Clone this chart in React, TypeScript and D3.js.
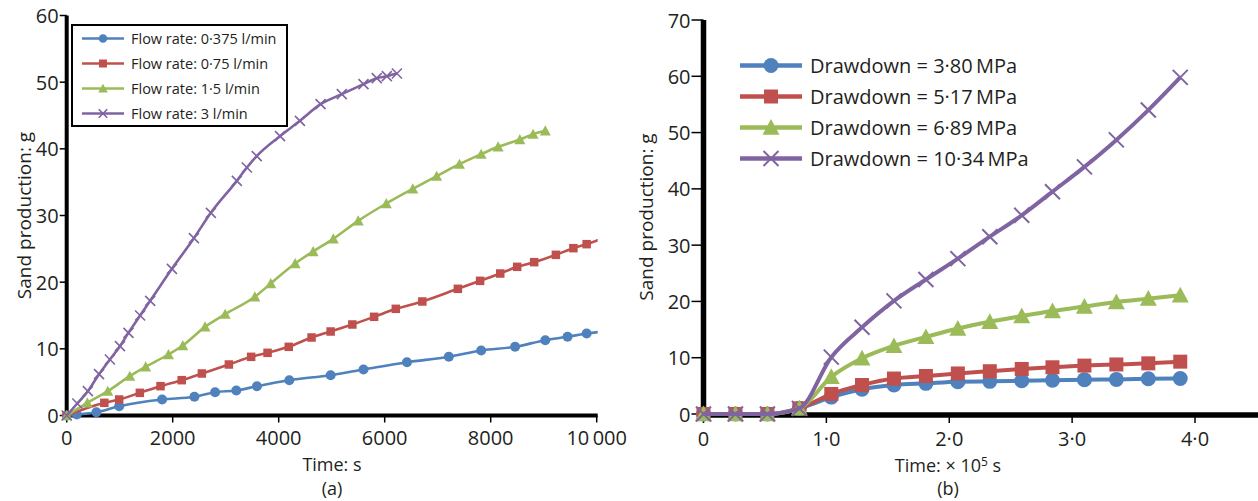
import React from "react";
import * as d3 from "d3";

type Pt = [number, number];
type Kind = "circle" | "square" | "triangle" | "cross";

const FONT = "'Open Sans', 'Noto Sans', sans-serif";
const INK = "#231f20";
const BLUE = "#4F81BD";
const RED = "#C0504D";
const GREEN = "#9BBB59";
const PURPLE = "#8064A2";

// ---------- Panel (a): sand production against time for four flow rates ----------
const flowTicksX = [0, 2000, 4000, 6000, 8000, 10000];
const flowTickLabelsX = ["0", "2000", "4000", "6000", "8000", "10\u2009000"];
const flowTicksY = [0, 10, 20, 30, 40, 50, 60];
const flowLegend = [
  "Flow rate: 0·375 l/min",
  "Flow rate: 0·75 l/min",
  "Flow rate: 1·5 l/min",
  "Flow rate: 3 l/min",
];

// [time in s, sand in g]
const flow0375: Pt[] = [
  [0, 0], [190, 0.15], [560, 0.5], [990, 1.4], [1800, 2.4], [2410, 2.8], [2800, 3.5],
  [3200, 3.75], [3590, 4.4], [4200, 5.3], [4980, 6.05], [5600, 6.9], [6420, 8.0],
  [7210, 8.8], [7820, 9.75], [8460, 10.3], [9030, 11.3], [9450, 11.8], [9810, 12.3],
  [10300, 12.7],
];
const flow075: Pt[] = [
  [0, 0], [710, 1.9], [990, 2.4], [1380, 3.4], [1770, 4.4], [2170, 5.3], [2550, 6.3],
  [3060, 7.65], [3480, 8.8], [3790, 9.4], [4190, 10.3], [4620, 11.7], [4980, 12.6],
  [5390, 13.65], [5800, 14.8], [6210, 16.0], [6710, 17.1], [7380, 19.0], [7800, 20.2],
  [8180, 21.3], [8500, 22.3], [8820, 23.0], [9230, 24.1], [9560, 25.1], [9810, 25.7],
  [10300, 27.2],
];
const flow15: Pt[] = [
  [0, 0], [390, 1.9], [775, 3.65], [1190, 5.9], [1490, 7.3], [1920, 9.15], [2190, 10.5],
  [2610, 13.3], [2990, 15.2], [3550, 17.8], [3850, 19.8], [4310, 22.8], [4650, 24.6],
  [5030, 26.5], [5500, 29.2], [6030, 31.8], [6530, 34.0], [6980, 35.9], [7410, 37.7],
  [7820, 39.2], [8140, 40.3], [8550, 41.4], [8800, 42.2], [9030, 42.7],
];
const flow3: Pt[] = [
  [0, 0], [200, 1.8], [400, 3.65], [610, 6.2], [815, 8.4], [1005, 10.4], [1165, 12.4],
  [1385, 15.0], [1575, 17.2], [1985, 22.0], [2400, 26.6], [2720, 30.4], [3210, 35.2],
  [3400, 37.2], [3585, 38.9], [4025, 41.9], [4400, 44.2], [4790, 46.7], [5190, 48.2],
  [5600, 49.7], [5850, 50.6], [6040, 50.9], [6230, 51.3],
];

// ---------- Panel (b): sand production against time for four drawdowns ----------
const drawTicksX = [0, 1, 2, 3, 4];
const drawTickLabelsX = ["0", "1·0", "2·0", "3·0", "4·0"];
const drawTicksY = [0, 10, 20, 30, 40, 50, 60, 70];
const drawLegend = [
  "Drawdown = 3·80\u2009MPa",
  "Drawdown = 5·17\u2009MPa",
  "Drawdown = 6·89\u2009MPa",
  "Drawdown = 10·34\u2009MPa",
];
// time in units of 10^5 s
const drawTimes = [0, 0.26, 0.52, 0.78, 1.04, 1.29, 1.55, 1.81, 2.07, 2.33, 2.59, 2.84, 3.1, 3.36, 3.62, 3.88];
const draw380 = [0, 0, 0, 1.0, 3.0, 4.4, 5.15, 5.45, 5.75, 5.8, 5.9, 6.0, 6.1, 6.15, 6.25, 6.3];
const draw517 = [0, 0, 0, 1.0, 3.55, 5.15, 6.3, 6.75, 7.2, 7.6, 8.0, 8.3, 8.6, 8.8, 9.0, 9.3];
const draw689 = [0, 0, 0, 1.0, 6.6, 9.9, 12.1, 13.7, 15.2, 16.4, 17.4, 18.3, 19.1, 19.9, 20.5, 21.1];
const draw1034 = [0, 0, 0, 1.0, 10.1, 15.4, 20.1, 23.9, 27.6, 31.5, 35.3, 39.5, 43.9, 48.7, 54.0, 59.8];

const kinds: Kind[] = ["circle", "square", "triangle", "cross"];
const colors = [BLUE, RED, GREEN, PURPLE];

function Marker({ kind, x, y, size, color, crossWidth }: {
  kind: Kind; x: number; y: number; size: number; color: string; crossWidth: number;
}) {
  const h = size / 2;
  if (kind === "circle") return <circle cx={x} cy={y} r={h} fill={color} />;
  if (kind === "square") return <rect x={x - h} y={y - h} width={size} height={size} fill={color} />;
  if (kind === "triangle")
    return <path d={`M${x},${y - h}L${x + h},${y + h * 0.85}L${x - h},${y + h * 0.85}Z`} fill={color} />;
  return (
    <path
      d={`M${x - h},${y - h}L${x + h},${y + h}M${x - h},${y + h}L${x + h},${y - h}`}
      stroke={color}
      strokeWidth={crossWidth}
      fill="none"
    />
  );
}

function PanelA() {
  const x = d3.scaleLinear().domain([0, 10000]).range([66.7, 596.7]);
  const y = d3.scaleLinear().domain([0, 60]).range([415.5, 15.5]);
  const line = d3.line<Pt>().x((d) => x(d[0])).y((d) => y(d[1])).curve(d3.curveMonotoneX);
  const series = [flow0375, flow075, flow15, flow3];
  const sizes = [10, 8.5, 11, 10];
  const legendSizes = [8.5, 8, 9.5, 8.5];
  const [x0, x1] = x.range();
  const [y0, y1] = y.range();
  return (
    <g>
      <defs>
        <clipPath id="clipA">
          <rect x={x0 - 10} y={y1 - 10} width={x1 - x0 + 11} height={y0 - y1 + 20} />
        </clipPath>
      </defs>
      {/* axes */}
      <line x1={x0} x2={x0} y1={y1} y2={y0 + 2} stroke="#000" strokeWidth={4} />
      <line x1={x0 - 2} x2={x1 + 1} y1={y0} y2={y0} stroke="#000" strokeWidth={4} />
      {flowTicksY.map((t) => (
        <g key={t}>
          <line x1={x0 - 7} x2={x0} y1={y(t)} y2={y(t)} stroke="#000" strokeWidth={1.5} />
          <text x={x0 - 8} y={y(t)} textAnchor="end" dominantBaseline="central" fontSize={20} fill={INK}>
            {t}
          </text>
        </g>
      ))}
      {flowTicksX.map((t, i) => (
        <g key={t}>
          <line x1={x(t)} x2={x(t)} y1={y0} y2={y0 + 7} stroke="#000" strokeWidth={1.5} />
          <text x={x(t)} y={445} textAnchor="middle" fontSize={20} fill={INK}>
            {flowTickLabelsX[i]}
          </text>
        </g>
      ))}
      {/* series */}
      <g clipPath="url(#clipA)">
        {series.map((s, i) => (
          <g key={i}>
            <path d={line(s) ?? ""} fill="none" stroke={colors[i]} strokeWidth={2.6} />
            {s.map((d, j) => (
              <Marker key={j} kind={kinds[i]} x={x(d[0])} y={y(d[1])} size={sizes[i]} color={colors[i]} crossWidth={1.6} />
            ))}
          </g>
        ))}
      </g>
      {/* legend */}
      <rect x={72} y={25} width={215} height={101} fill="#fff" stroke="#000" strokeWidth={2} />
      {flowLegend.map((label, i) => {
        const ly = 38.5 + i * 25;
        return (
          <g key={label}>
            <line x1={82} x2={124} y1={ly} y2={ly} stroke={colors[i]} strokeWidth={2.6} />
            <Marker kind={kinds[i]} x={103} y={ly} size={legendSizes[i]} color={colors[i]} crossWidth={1.6} />
            <text x={131} y={ly} dominantBaseline="central" fontSize={14.5} fill={INK}>
              {label}
            </text>
          </g>
        );
      })}
      {/* titles */}
      <text x={332} y={471} textAnchor="middle" fontSize={18} fill={INK}>
        Time: s
      </text>
      <text x={332} y={495} textAnchor="middle" fontSize={18} fill={INK}>
        (a)
      </text>
      <text transform={`translate(31,${(y0 + y1) / 2}) rotate(-90)`} textAnchor="middle" fontSize={19} fill={INK}>
        Sand production: g
      </text>
    </g>
  );
}

function PanelB() {
  const x = d3.scaleLinear().domain([0, 4]).range([703.5, 1195]);
  const y = d3.scaleLinear().domain([0, 70]).range([414, 20]);
  const line = d3.line<number>().x((_, i) => x(drawTimes[i])).y((d) => y(d)).curve(d3.curveMonotoneX);
  const series = [draw380, draw517, draw689, draw1034];
  const sizes = [15, 14, 17, 15];
  const [x0] = x.range();
  const [y0, y1] = y.range();
  return (
    <g>
      {/* axes */}
      <line x1={x0} x2={x0} y1={y1} y2={y0 + 3} stroke="#000" strokeWidth={5.5} />
      <line x1={x0 - 3} x2={1258} y1={y0 + 1} y2={y0 + 1} stroke="#000" strokeWidth={5.5} />
      {drawTicksY.map((t) => (
        <g key={t}>
          <line x1={x0 - 12} x2={x0} y1={y(t)} y2={y(t)} stroke="#000" strokeWidth={1.5} />
          <text x={x0 - 13} y={y(t)} textAnchor="end" dominantBaseline="central" fontSize={20} fill={INK}>
            {t}
          </text>
        </g>
      ))}
      {drawTicksX.map((t, i) => (
        <g key={t}>
          <line x1={x(t)} x2={x(t)} y1={y0} y2={y0 + 9} stroke="#000" strokeWidth={1.5} />
          <text x={x(t)} y={446} textAnchor="middle" fontSize={20} fill={INK}>
            {drawTickLabelsX[i]}
          </text>
        </g>
      ))}
      {/* series */}
      {series.map((s, i) => (
        <g key={i}>
          <path d={line(s) ?? ""} fill="none" stroke={colors[i]} strokeWidth={4} />
          {s.map((v, j) => (
            <Marker key={j} kind={kinds[i]} x={x(drawTimes[j])} y={y(v)} size={sizes[i]} color={colors[i]} crossWidth={2} />
          ))}
        </g>
      ))}
      {/* legend */}
      {drawLegend.map((label, i) => {
        const ly = 65.5 + i * 31;
        return (
          <g key={label}>
            <line x1={740} x2={802} y1={ly} y2={ly} stroke={colors[i]} strokeWidth={4.5} />
            <Marker kind={kinds[i]} x={771} y={ly} size={sizes[i]} color={colors[i]} crossWidth={2} />
            <text x={810} y={ly} dominantBaseline="central" fontSize={20} fill={INK}>
              {label}
            </text>
          </g>
        );
      })}
      {/* titles */}
      <text x={948} y={472} textAnchor="middle" fontSize={18} fill={INK}>
        Time: × 10<tspan fontSize={12} dy={-6}>5</tspan>
        <tspan dy={6}> s</tspan>
      </text>
      <text x={948} y={495} textAnchor="middle" fontSize={18} fill={INK}>
        (b)
      </text>
      <text transform={`translate(653,${(y0 + y1) / 2}) rotate(-90)`} textAnchor="middle" fontSize={19} fill={INK}>
        Sand production: g
      </text>
    </g>
  );
}

export default function App() {
  return (
    <svg
      width={1258}
      height={501}
      viewBox="0 0 1258 501"
      style={{ position: "absolute", left: 0, top: 0, background: "#fff", fontFamily: FONT }}
    >
      <rect width={1258} height={501} fill="#fff" />
      <PanelA />
      <PanelB />
    </svg>
  );
}
